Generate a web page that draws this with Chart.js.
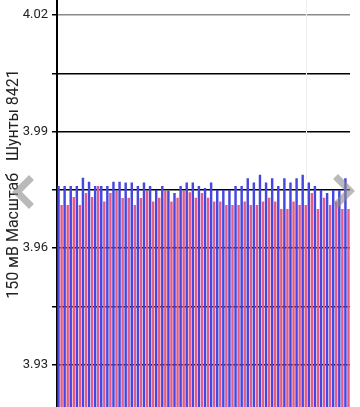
<!DOCTYPE html>
<html>
<head>
<meta charset="utf-8">
<script src="https://cdn.jsdelivr.net/npm/chart.js@4.4.1/dist/chart.umd.min.js"></script>
<style>
  html, body { margin: 0; padding: 0; background: #fff; overflow: hidden; }
  #wrap { position: relative; width: 360px; height: 407px; }
  .chev { position: absolute; width: 17px; height: 17px; border-style: solid; border-color: rgba(140,140,140,0.6); border-width: 0; pointer-events: none; }
  #chevL { left: 17px; top: 180px; border-left-width: 7px; border-bottom-width: 7px; transform: rotate(45deg); }
  #chevR { left: 326px; top: 179px; border-right-width: 7px; border-top-width: 7px; transform: rotate(45deg); }
</style>
</head>
<body>
<div id="wrap">
  <canvas id="c"></canvas>
  <div class="chev" id="chevL"></div>
  <div class="chev" id="chevR"></div>
</div>
<script>
const categories = Array.from({length: 48}, (_, i) => String(i + 1));

const blueValues = [
  3.9760, 3.9760, 3.9760, 3.9760, 3.9781, 3.9771, 3.9760, 3.9760, 3.9760, 3.9771,
  3.9771, 3.9769, 3.9769, 3.9760, 3.9769, 3.9760, 3.9750, 3.9760, 3.9748, 3.9742,
  3.9760, 3.9769, 3.9769, 3.9760, 3.9755, 3.9769, 3.9750, 3.9750, 3.9750, 3.9760,
  3.9760, 3.9780, 3.9769, 3.9789, 3.9769, 3.9780, 3.9760, 3.9780, 3.9769, 3.9780,
  3.9789, 3.9769, 3.9760, 3.9750, 3.9742, 3.9750, 3.9750, 3.9780
];

const pinkValues = [
  3.9711, 3.9711, 3.9732, 3.9711, 3.9742, 3.9732, 3.9760, 3.9720, 3.9742, 3.9748,
  3.9729, 3.9730, 3.9711, 3.9729, 3.9748, 3.9720, 3.9730, 3.9748, 3.9720, 3.9730,
  3.9748, 3.9744, 3.9730, 3.9742, 3.9730, 3.9720, 3.9720, 3.9711, 3.9711, 3.9711,
  3.9720, 3.9711, 3.9711, 3.9720, 3.9730, 3.9720, 3.9701, 3.9701, 3.9720, 3.9711,
  3.9711, 3.9742, 3.9701, 3.9730, 3.9711, 3.9720, 3.9701, 3.9701
];

const tickValues = [3.93, 3.945, 3.96, 3.975, 3.99, 4.005, 4.02];
const tickLabels = ['3.93', '', '3.96', '', '3.99', '', '4.02'];
const axisTitle = '150 мВ Масштаб   Шунты 8421';

const titlePlugin = {
  id: 'sideTitle',
  beforeDatasetsDraw(chart) {
    const ctx = chart.ctx;
    ctx.save();
    ctx.strokeStyle = '#eeeeee';
    ctx.lineWidth = 1;
    ctx.beginPath();
    ctx.moveTo(306.5, 0);
    ctx.lineTo(306.5, 180);
    ctx.stroke();
    ctx.restore();
  },
  afterDraw(chart) {
    const ctx = chart.ctx;
    ctx.save();
    ctx.translate(14, 184);
    ctx.rotate(-Math.PI / 2);
    ctx.font = '16px Roboto, "Noto Sans", sans-serif';
    ctx.fillStyle = '#222';
    ctx.textAlign = 'center';
    ctx.textBaseline = 'middle';
    ctx.fillText(axisTitle, 0, 0);
    ctx.restore();
  }
};

new Chart(document.getElementById('c'), {
  type: 'bar',
  data: {
    labels: categories,
    datasets: [
      { data: blueValues, backgroundColor: 'rgb(70,70,225)', borderWidth: 0, barPercentage: 0.8, categoryPercentage: 1.0 },
      { data: pinkValues, backgroundColor: 'rgb(226,92,134)', borderWidth: 0, barPercentage: 0.8, categoryPercentage: 1.0 }
    ]
  },
  options: {
    responsive: true,
    maintainAspectRatio: false,
    animation: false,
    layout: { padding: { left: 0, right: 10, top: 0, bottom: 0 } },
    plugins: { legend: { display: false }, tooltip: { enabled: false }, title: { display: false } },
    scales: {
      x: { display: false, grid: { display: false }, offset: true },
      y: {
        z: 1,
        min: 3.91914,
        max: 4.02386,
        afterBuildTicks: (s) => { s.ticks = tickValues.map(v => ({ value: v })); },
        afterFit: (s) => { s.width = 57; s.paddingTop = 0; s.paddingBottom = 0; },
        border: { display: true, color: '#000', width: 2 },
        grid: {
          color: (c) => (c.tick && Math.abs(c.tick.value - 4.02) < 1e-6) ? '#8a8a8a' : '#000',
          lineWidth: 1.5,
          tickLength: 5,
          tickColor: '#000',
          drawTicks: true
        },
        ticks: {
          autoSkip: false,
          padding: 4,
          color: '#222',
          font: { family: 'Roboto, "Noto Sans", sans-serif', size: 13 },
          callback: (v, i) => tickLabels[i]
        }
      }
    }
  },
  plugins: [titlePlugin]
});
</script>
</body>
</html>
